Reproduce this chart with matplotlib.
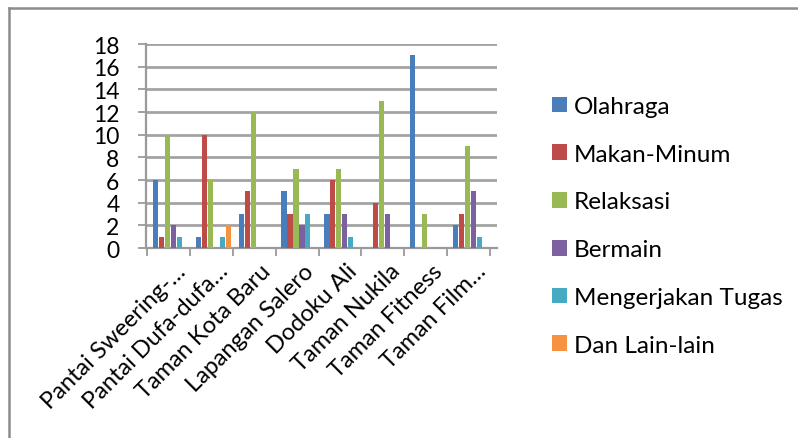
import matplotlib
matplotlib.use("Agg")
import matplotlib.pyplot as plt
import numpy as np
from matplotlib.lines import Line2D
from matplotlib.transforms import ScaledTranslation

plt.rcParams['font.family'] = ['Lato', 'DejaVu Sans']

categories = ["Pantai Sweering-…", "Pantai Dufa-dufa…", "Taman Kota Baru",
              "Lapangan Salero", "Dodoku Ali", "Taman Nukila",
              "Taman Fitness", "Taman Film…"]
series_names = ["Olahraga", "Makan-Minum", "Relaksasi", "Bermain",
                "Mengerjakan Tugas", "Dan Lain-lain"]
olahraga = [6, 1, 3, 5, 3, 0, 17, 2]
makan_minum = [1, 10, 5, 3, 6, 4, 0, 3]
relaksasi = [10, 6, 12, 7, 7, 13, 3, 9]
bermain = [2, 0, 0, 2, 3, 3, 0, 5]
tugas = [1, 1, 0, 3, 1, 0, 0, 1]
lain_lain = [0, 2, 0, 0, 0, 0, 0, 0]
yticks = [0, 2, 4, 6, 8, 10, 12, 14, 16, 18]

series = [olahraga, makan_minum, relaksasi, bermain, tugas, lain_lain]
colors = ["#4A7EBB", "#BE4B48", "#98B954", "#7D60A0", "#46AAC5", "#F69240"]

W, H = 798, 439
fig = plt.figure(figsize=(W / 100, H / 100), dpi=100)
fig.patch.set_facecolor("white")

# outer chart frame: left and top edges
frame_kw = dict(transform=fig.transFigure, color="#8c8c8c", linewidth=1.8)
fig.lines.append(Line2D([8.5 / W, 8.5 / W], [0, 1 - 8.5 / H], **frame_kw))
fig.lines.append(Line2D([8.5 / W, 1], [1 - 8.5 / H, 1 - 8.5 / H], **frame_kw))

n = len(categories)
px_per_cat = 43.2
x0_px, x_end_px = 146, 497          # plot area in pixels
left_pad = (145 - x0_px) / px_per_cat
right_pad = (x_end_px - 490) / px_per_cat
bottom, top = 1 - 249 / H, 1 - 45 / H
ax = fig.add_axes([x0_px / W, bottom, (x_end_px - x0_px) / W, top - bottom])

x = np.arange(n)
slot = 6.0 / px_per_cat
bw = 5.2 / px_per_cat
offset0 = -0.5 + 5.5 / px_per_cat
for k, (vals, c, name) in enumerate(zip(series, colors, series_names)):
    ax.bar(x + offset0 + k * slot + slot / 2, vals, width=bw, color=c,
           label=name, edgecolor="none", zorder=3)

ax.set_xlim(-0.5 + left_pad, n - 0.5 + right_pad)
ax.set_ylim(0, 18)
ax.set_yticks(yticks)
ax.set_yticklabels([str(v) for v in yticks], fontsize=16.5)
ax.yaxis.grid(True, color="#a3a3a3", linewidth=2.0, zorder=0)
ax.set_axisbelow(True)

for s in ("top", "right"):
    ax.spines[s].set_visible(False)
for s in ("left", "bottom"):
    ax.spines[s].set_color("#9a9a9a")
    ax.spines[s].set_linewidth(1.6)
ax.tick_params(axis="y", length=6, width=1.3, color="#9a9a9a", pad=13)

# tick marks at category boundaries, labels at centres
ax.set_xticks(np.arange(n + 1) - 0.5)
ax.set_xticklabels([])
ax.tick_params(axis="x", which="major", length=6, width=1.3, color="#9a9a9a")
ax.set_xticks(x, minor=True)
ax.set_xticklabels(categories, minor=True, fontsize=17, rotation=45,
                   ha="right", va="center", rotation_mode="anchor")
ax.tick_params(axis="x", which="minor", length=0, pad=14)
shift = ScaledTranslation(0.135, 0, fig.dpi_scale_trans)
for lab in ax.get_xticklabels(minor=True):
    lab.set_transform(lab.get_transform() + shift)

leg = fig.legend(loc="upper left", bbox_to_anchor=(552 / W, 1 - 97 / H),
                 frameon=False, fontsize=17.5, handlelength=0.62,
                 handleheight=0.62, handletextpad=0.28, labelspacing=1.1,
                 borderaxespad=0, borderpad=0)

fig.savefig("out.png", dpi=100, facecolor="white")
